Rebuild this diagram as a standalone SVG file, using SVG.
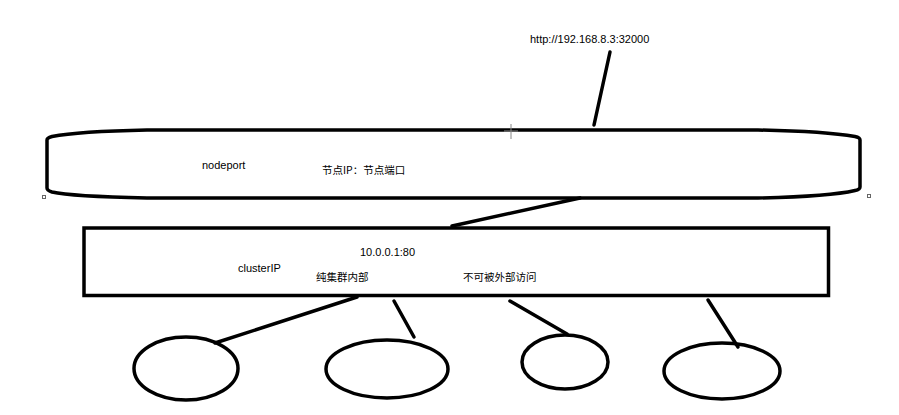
<svg xmlns="http://www.w3.org/2000/svg" width="899" height="415" viewBox="0 0 899 415">
  <style>
    .shape { fill: none; stroke: #000; stroke-width: 3.5; }
    .edge { fill: none; stroke: #000; stroke-width: 3.5; stroke-linecap: round; }
    .lbl { font-family: "Liberation Sans", "Noto Sans CJK SC", sans-serif; font-size: 11px; fill: #000; }
    .cjk { font-family: "Noto Sans CJK SC", "Liberation Sans", sans-serif; font-size: 10.5px; fill: #000; }
    .handle { fill: #fff; stroke: #666; stroke-width: 1; }
  </style>
  <rect x="0" y="0" width="899" height="415" fill="#fff"/>

  <text class="lbl" x="530" y="43">http://192.168.8.3:32000</text>

  <g id="nodeport">
    <path class="shape" stroke-width="3" d="M147,130 L758,130 C805,131 840,134 855,136.5 Q860,137.5 860,140 L860,187 Q860,189.5 855,190.5 C840,194 805,197 758,198 L147,198 C100,197 65,195 52,192 Q47,190.5 47,188 L47,140 Q47,138 52,136.5 C65,134 100,131 147,130 Z"/>
    <text class="lbl" x="202" y="169" font-size="11.5">nodeport</text>
    <text class="cjk" x="322" y="174" font-size="11">节点IP：节点端口</text>
    <rect class="handle" x="42.5" y="195.5" width="3" height="3"/>
    <rect class="handle" x="867.5" y="194.5" width="3" height="3"/>
    <g stroke="#888" stroke-width="1">
      <line x1="511" y1="124" x2="511" y2="139"/>
      <line x1="504" y1="131" x2="518" y2="131"/>
    </g>
  </g>

  <g id="clusterIP">
    <rect class="shape" x="84" y="228" width="744.5" height="67.5"/>
    <text class="lbl" x="360" y="256">10.0.0.1:80</text>
    <text class="lbl" x="238" y="272">clusterIP</text>
    <text class="cjk" x="316" y="281">纯集群内部</text>
    <text class="cjk" x="463" y="281">不可被外部访问</text>
  </g>

  <g id="pod1"><ellipse class="shape" stroke-width="3" cx="186" cy="368.5" rx="52" ry="31.5"/></g>
  <g id="pod2"><ellipse class="shape" stroke-width="3" cx="387" cy="369" rx="61" ry="29"/></g>
  <g id="pod3"><ellipse class="shape" stroke-width="3" cx="565" cy="362" rx="43" ry="27"/></g>
  <g id="pod4"><ellipse class="shape" stroke-width="3" cx="722" cy="371" rx="58" ry="28"/></g>

  <g id="connectors">
    <line class="edge" x1="610" y1="52" x2="594" y2="125"/>
    <line class="edge" x1="580" y1="198" x2="452" y2="226"/>
    <line class="edge" x1="357" y1="297" x2="215" y2="343"/>
    <line class="edge" x1="394" y1="301" x2="414" y2="337"/>
    <line class="edge" x1="510" y1="301" x2="567" y2="334"/>
    <line class="edge" x1="708" y1="300" x2="738" y2="347"/>
  </g>
</svg>
